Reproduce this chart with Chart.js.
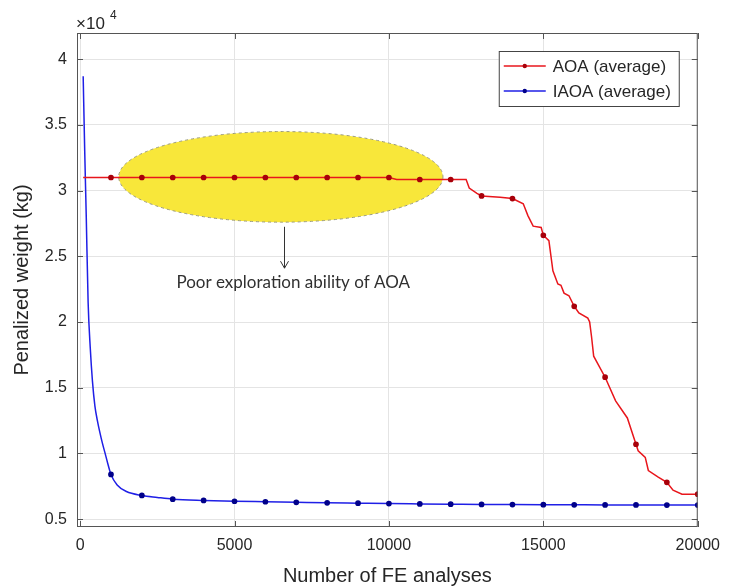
<!DOCTYPE html>
<html>
<head>
<meta charset="utf-8">
<script src="https://cdn.jsdelivr.net/npm/chart.js@4.4.0/dist/chart.umd.min.js"></script>
<style>
  body { margin: 0; background: #fff; }
</style>
</head>
<body>
<canvas id="feChart" width="729" height="588"></canvas>
<script>
// values, weight in units of 10^4 kg
const aoaEvals = [100, 1000, 2000, 3000, 4000, 5000, 6000, 7000, 8000, 9000, 10000, 10250, 11000, 12000, 12500, 12600, 12850, 13000, 13600, 14000, 14350, 14500, 14670, 14930, 15000, 15180, 15310, 15470, 15570, 15670, 15830, 16000, 16150, 16440, 16500, 16560, 16630, 17000, 17340, 17720, 18000, 18070, 18300, 18400, 18720, 19000, 19200, 19490, 20000];
const aoaWeight = [3.10, 3.10, 3.10, 3.10, 3.10, 3.10, 3.10, 3.10, 3.10, 3.10, 3.10, 3.085, 3.085, 3.085, 3.085, 3.02, 2.98, 2.96, 2.95, 2.94, 2.90, 2.81, 2.73, 2.72, 2.66, 2.62, 2.39, 2.29, 2.28, 2.22, 2.20, 2.12, 2.07, 2.03, 2.00, 1.89, 1.74, 1.58, 1.40, 1.27, 1.07, 1.02, 0.97, 0.87, 0.82, 0.78, 0.72, 0.69, 0.69];

const iaoaEvals = [100, 150, 200, 260, 330, 400, 480, 560, 640, 720, 800, 900, 1000, 1200, 1500, 2000, 2500, 3000, 4000, 5000, 6000, 7000, 8000, 9000, 10000, 11000, 12000, 13000, 14000, 15000, 16000, 17000, 18000, 19000, 20000];
const iaoaWeight = [3.87, 3.30, 2.80, 2.15, 1.80, 1.55, 1.36, 1.25, 1.16, 1.08, 1.01, 0.92, 0.84, 0.76, 0.71, 0.68, 0.665, 0.652, 0.642, 0.636, 0.632, 0.628, 0.624, 0.621, 0.618, 0.616, 0.614, 0.612, 0.611, 0.610, 0.609, 0.608, 0.608, 0.607, 0.607];

const seriesNames = ['AOA (average)', 'IAOA (average)'];
const xTicks = [0, 5000, 10000, 15000, 20000];
const yTicks = [0.5, 1, 1.5, 2, 2.5, 3, 3.5, 4];

const noteText = 'Poor exploration ability of AOA';

const axisFont = { family: 'Liberation Sans, Arial, sans-serif', size: 16 };
const titleFont = { family: 'Liberation Sans, Arial, sans-serif', size: 20 };
const inkColor = '#262626';

function toPoints(xs, ys) {
    return xs.map((x, i) => ({ x: x, y: ys[i] }));
}

function markerRadius(c) {
    return c.raw && c.raw.x % 1000 === 0 ? 2.1 : 0;
}

const figureExtras = {
    id: 'figureExtras',
    beforeDatasetsDraw(chart) {
        const { ctx, scales: { x, y } } = chart;
        // yellow highlight ellipse (data units)
        const cx = x.getPixelForValue(6500), cy = y.getPixelForValue(3.105);
        const rx = x.getPixelForValue(11750) - cx;
        const ry = cy - y.getPixelForValue(3.45);
        ctx.save();
        ctx.beginPath();
        ctx.ellipse(cx, cy, rx, ry, 0, 0, Math.PI * 2);
        ctx.fillStyle = '#f8e73a';
        ctx.fill();
        ctx.setLineDash([3, 3]);
        ctx.strokeStyle = '#9a9a80';
        ctx.lineWidth = 1;
        ctx.stroke();
        ctx.restore();
    },
    afterDraw(chart) {
        const { ctx, chartArea: a, scales: { x, y } } = chart;
        ctx.save();

        // box and inward ticks
        ctx.strokeStyle = '#555';
        ctx.lineWidth = 1;
        ctx.strokeRect(a.left + 0.5, a.top + 0.5, a.right - a.left - 1, a.bottom - a.top - 1);
        ctx.beginPath();
        xTicks.forEach(v => {
            const px = Math.round(x.getPixelForValue(v)) + 0.5;
            ctx.moveTo(px, a.bottom); ctx.lineTo(px, a.bottom - 6);
            ctx.moveTo(px, a.top); ctx.lineTo(px, a.top + 6);
        });
        yTicks.forEach(v => {
            const py = Math.round(y.getPixelForValue(v)) + 0.5;
            ctx.moveTo(a.left, py); ctx.lineTo(a.left + 6, py);
            ctx.moveTo(a.right, py); ctx.lineTo(a.right - 6, py);
        });
        ctx.stroke();

        // exponent label
        ctx.fillStyle = inkColor;
        ctx.font = '17px Liberation Sans, Arial, sans-serif';
        ctx.textBaseline = 'alphabetic';
        ctx.textAlign = 'left';
        ctx.fillText('\u00d710', a.left - 1, a.top - 4);
        ctx.font = '12px Liberation Sans, Arial, sans-serif';
        ctx.fillText('4', a.left + 33, a.top - 14);

        // arrow + note
        const ax = Math.round(x.getPixelForValue(6600)) + 0.5;
        const ay1 = y.getPixelForValue(2.725), ay2 = y.getPixelForValue(2.41);
        ctx.strokeStyle = '#333';
        ctx.beginPath();
        ctx.moveTo(ax, ay1); ctx.lineTo(ax, ay2);
        ctx.moveTo(ax - 4, ay2 - 7); ctx.lineTo(ax, ay2); ctx.lineTo(ax + 4, ay2 - 7);
        ctx.stroke();
        ctx.font = '17px Lato, Open Sans, sans-serif';
        ctx.textAlign = 'center';
        ctx.textBaseline = 'middle';
        ctx.fillStyle = '#303030';
        ctx.fillText(noteText, x.getPixelForValue(6900), y.getPixelForValue(2.30));

        // legend box
        const lx = a.right - 199, ly = a.top + 18, lw = 180, lh = 55;
        ctx.fillStyle = '#fff';
        ctx.fillRect(lx, ly, lw, lh);
        ctx.strokeStyle = '#444';
        ctx.strokeRect(lx + 0.5, ly + 0.5, lw, lh);
        ctx.font = '17px Liberation Sans, Arial, sans-serif';
        ctx.textAlign = 'left';
        chart.data.datasets.forEach((ds, i) => {
            const rowY = ly + 15 + i * 25;
            ctx.strokeStyle = ds.borderColor;
            ctx.lineWidth = 1.5;
            ctx.beginPath();
            ctx.moveTo(lx + 5, rowY); ctx.lineTo(lx + 47, rowY);
            ctx.stroke();
            ctx.fillStyle = ds.pointBackgroundColor;
            ctx.beginPath();
            ctx.arc(lx + 26, rowY, 2.2, 0, Math.PI * 2);
            ctx.fill();
            ctx.fillStyle = inkColor;
            ctx.fillText(ds.label, lx + 54, rowY + 1);
        });
        ctx.restore();
    }
};

const ctx = document.getElementById('feChart').getContext('2d');
new Chart(ctx, {
    type: 'line',
    data: {
        datasets: [
            {
                label: seriesNames[0],
                data: toPoints(aoaEvals, aoaWeight),
                borderColor: '#e8161c',
                borderWidth: 1.5,
                pointBackgroundColor: '#a8000a',
                pointBorderColor: '#a8000a',
                pointRadius: markerRadius,
                tension: 0
            },
            {
                label: seriesNames[1],
                data: toPoints(iaoaEvals, iaoaWeight),
                borderColor: '#1f1fe6',
                borderWidth: 1.5,
                pointBackgroundColor: '#00008a',
                pointBorderColor: '#00008a',
                pointRadius: markerRadius,
                cubicInterpolationMode: 'monotone'
            }
        ]
    },
    options: {
        responsive: false,
        animation: false,
        layout: { padding: { top: 33, right: 27, left: 0, bottom: 0 } },
        plugins: { legend: { display: false }, tooltip: { enabled: false } },
        scales: {
            x: {
                type: 'linear',
                min: -100,
                max: 20000,
                afterFit: s => { s.height = 61; },
                afterBuildTicks: s => { s.ticks = xTicks.map(v => ({ value: v })); },
                ticks: { color: inkColor, font: axisFont, padding: 9, maxRotation: 0, callback: v => String(v) },
                grid: { color: '#e4e4e4', drawTicks: false },
                border: { display: false },
                title: { display: true, text: 'Number of FE analyses', color: inkColor, font: titleFont, padding: { bottom: 0 } }
            },
            y: {
                min: 0.44,
                max: 4.2,
                afterFit: s => { s.width = 77; },
                afterBuildTicks: s => { s.ticks = yTicks.map(v => ({ value: v })); },
                ticks: { color: inkColor, font: axisFont, padding: 10, callback: v => String(v) },
                grid: { color: '#e4e4e4', drawTicks: false },
                border: { display: false },
                title: { display: true, text: 'Penalized weight (kg)', color: inkColor, font: titleFont, padding: { top: 10 } }
            }
        }
    },
    plugins: [figureExtras]
});
</script>
</body>
</html>
